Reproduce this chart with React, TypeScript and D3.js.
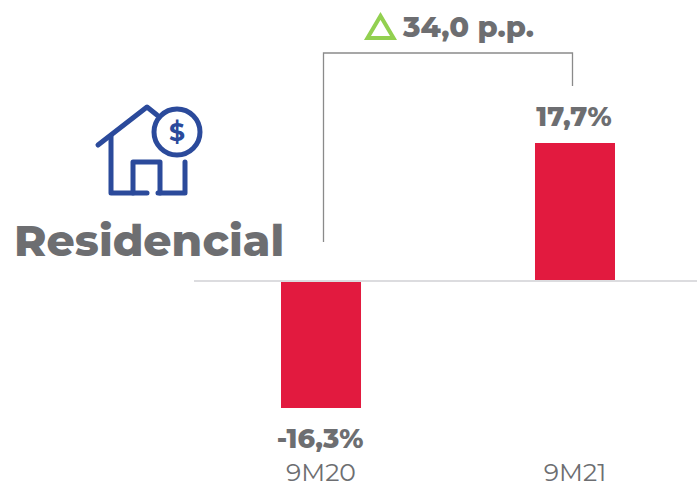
import React from 'react';
import * as d3 from 'd3';

const categories = ['9M20', '9M21'];
const values = [-16.3, 17.7];
const valueLabels = ['-16,3%', '17,7%'];
const deltaLabel = '34,0 p.p.';
const title = 'Residencial';

const width = 697;
const height = 484;
const font = 'Montserrat, Lato, "Open Sans", sans-serif';
const grey = '#6d6e71';
const blue = '#2b4a9b';

export default function App() {
  const x = d3.scaleBand().domain(categories).range([281, 615]).paddingInner(0.685);
  const y = d3.scaleLinear().domain([-16.3, 17.7]).range([408, 143]);
  const y0 = y(0);
  const cx = (c: string) => x(c)! + x.bandwidth() / 2;

  return (
    <svg width={width} height={height} style={{ position: 'absolute', left: 0, top: 0 }}>
      {categories.map((c, i) => {
        const v = values[i];
        return (
          <g key={c}>
            <rect x={x(c)} width={x.bandwidth()} y={Math.min(y(v), y0)} height={Math.abs(y(v) - y0)} fill="#e21a3f" />
            <text x={cx(c) - 1} y={v < 0 ? y(v) + 40 : y(v) - 17} textAnchor="middle" fontFamily={font} fontWeight={800} fontSize={27} fill={grey}>{valueLabels[i]}</text>
            <text x={cx(c)} y={481} textAnchor="middle" fontFamily={font} fontSize={25} fill={grey}>{c}</text>
          </g>
        );
      })}
      <line x1={194} x2={697} y1={y0} y2={y0} stroke="#dcdcdf" strokeWidth={2} />
      <path d="M323.5 242V53H572.5V86" fill="none" stroke="#8a8a8a" strokeWidth={1.3} />
      <path d="M367.5 38L393.5 38L380.5 16Z" fill="none" stroke="#92d050" strokeWidth={4} />
      <text x={403} y={37} fontFamily={font} fontWeight={800} fontSize={29} fill={grey}>{deltaLabel}</text>
      <text x={14} y={256} fontFamily={font} fontWeight={800} fontSize={44} fill={grey}>{title}</text>
      <g fill="none" stroke={blue} strokeWidth={5} strokeLinejoin="round" strokeLinecap="round">
        <path d="M98 145L147 107L157 115" />
        <path d="M111 136V193H147" />
        <path d="M133 193V162H160V193" />
        <path d="M158 193H185V162" />
        <circle cx={177} cy={132} r={23} />
      </g>
      <text x={177} y={141} textAnchor="middle" fontFamily={font} fontWeight={700} fontSize={25} fill={blue}>$</text>
    </svg>
  );
}
